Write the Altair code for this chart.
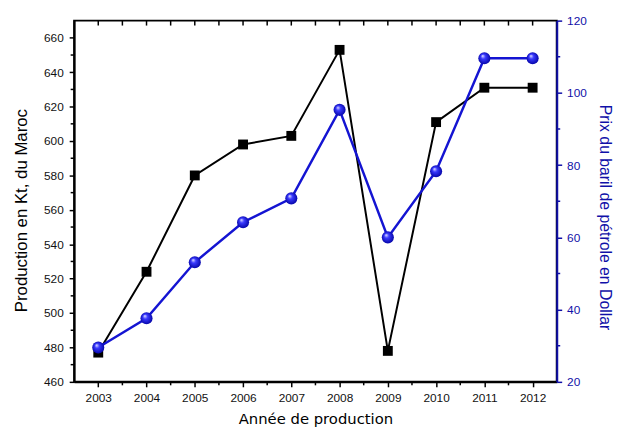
import altair as alt
import pandas as pd

years = [2003, 2004, 2005, 2006, 2007, 2008, 2009, 2010, 2011, 2012]
production_kt = [477, 524, 580, 598, 603, 653, 478, 611, 631, 631]
oil_price_usd = [29.5, 37.6, 53.1, 64.2, 70.8, 95.3, 60.0, 78.3, 109.6, 109.6]

left_major = list(range(460, 680, 20))
left_minor = list(range(470, 670, 20))
right_major = list(range(20, 140, 20))
right_minor = list(range(30, 120, 20))
x_minor = [y + 0.5 for y in years[:-1]]
top_ticks_vals = sorted(years + x_minor)

W, H = 489, 366

df = pd.DataFrame({"year": years, "prod": production_kt, "price": oil_price_usd})

FONT = "Liberation Sans"
BLUE = "#1414d2"
AXBLUE = "#1010a8"

x_scale = alt.Scale(domain=[2002.5, 2012.5], nice=False, zero=False)
prod_scale = alt.Scale(domain=[460, 670], nice=False, zero=False)
price_scale = alt.Scale(domain=[20, 120], nice=False, zero=False)

x_axis = alt.Axis(
    values=years, format="d",
    tickSize=5, tickColor="black", tickWidth=1.5, domainColor="black", domainWidth=2,
    labelFont=FONT, labelFontSize=12, labelColor="#111", labelPadding=6,
    title="Année de production", titleFont="DejaVu Sans", titleFontSize=15,
    titleFontWeight="normal", titleColor="black", titleY=30,
    grid=False,
)
left_axis = alt.Axis(
    values=left_major,
    tickSize=5, tickColor="black", tickWidth=1.5, domainColor="black", domainWidth=2,
    labelFont=FONT, labelFontSize=12, labelColor="#111", labelPadding=6,
    title="Production en Kt, du Maroc", titleFont=FONT, titleFontSize=17,
    titleFontWeight="normal", titleColor="black", titleX=-44, titleY=192,
    grid=False, orient="left",
)
right_axis = alt.Axis(
    values=right_major,
    tickSize=5, tickColor=AXBLUE, tickWidth=1.5, domainColor=AXBLUE, domainWidth=2,
    labelFont=FONT, labelFontSize=12, labelColor=AXBLUE, labelPadding=5,
    title="Prix du baril de pétrole en Dollar", titleFont=FONT, titleFontSize=16,
    titleFontWeight="normal", titleColor=AXBLUE, titleX=40, titleY=199,
    grid=False, orient="right",
)

base = alt.Chart(df)
X = alt.X("year:Q", scale=x_scale, axis=x_axis)

prod_line = base.mark_line(color="black", strokeWidth=2).encode(
    x=X, y=alt.Y("prod:Q", scale=prod_scale, axis=left_axis))
prod_pts = base.mark_point(shape="square", filled=True, color="black", size=100, opacity=1).encode(
    x=X, y=alt.Y("prod:Q", scale=prod_scale, axis=None))

price_line = base.mark_line(color=BLUE, strokeWidth=2.5).encode(
    x=X, y=alt.Y("price:Q", scale=price_scale, axis=right_axis))
sphere = {
    "gradient": "radial",
    "x1": 0.35, "y1": 0.3, "r1": 0,
    "x2": 0.5, "y2": 0.5, "r2": 0.55,
    "stops": [
        {"offset": 0, "color": "#e8e8ff"},
        {"offset": 0.35, "color": "#3a3aff"},
        {"offset": 1, "color": "#0000a0"},
    ],
}
price_pts = base.mark_point(shape="circle", filled=True, fill=sphere, size=150, opacity=1, strokeWidth=0).encode(
    x=X, y=alt.Y("price:Q", scale=price_scale, axis=None))

# top ticks and minor ticks
top_ticks = alt.Chart(pd.DataFrame({"year": top_ticks_vals})).mark_rule(color="black", strokeWidth=1.5).encode(
    x=X, y=alt.value(0), y2=alt.value(5))
bottom_minor = alt.Chart(pd.DataFrame({"year": x_minor})).mark_rule(color="black", strokeWidth=1.5).encode(
    x=X, y=alt.value(H), y2=alt.value(H + 3.5))
left_minor_r = alt.Chart(pd.DataFrame({"v": left_minor})).mark_rule(color="black", strokeWidth=1.5).encode(
    y=alt.Y("v:Q", scale=prod_scale, axis=None), x=alt.value(0), x2=alt.value(-3.5))
right_minor_r = alt.Chart(pd.DataFrame({"v": right_minor})).mark_rule(color=AXBLUE, strokeWidth=1.5).encode(
    y=alt.Y("v:Q", scale=price_scale, axis=None), x=alt.value(W), x2=alt.value(W + 3.5))

chart = (
    alt.layer(prod_line, prod_pts, price_line, price_pts,
              top_ticks, bottom_minor, left_minor_r, right_minor_r)
    .resolve_scale(y="independent")
    .properties(
        width=W,
        height=H,
        autosize=alt.AutoSizeParams(type="none"),
        padding={"left": 67, "top": 10, "right": 58, "bottom": 47},
        background="white",
    )
    .configure_view(stroke="black", strokeWidth=2)
)

chart.save("out.html", embed_options={"renderer": "svg", "actions": False})
